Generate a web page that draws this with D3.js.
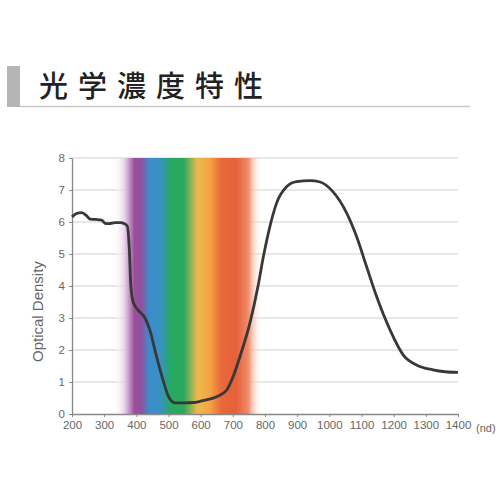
<!DOCTYPE html>
<html>
<head>
<meta charset="utf-8">
<script src="https://cdn.jsdelivr.net/npm/d3@7"></script>
<style>
  body { margin: 0; background: #fff; }
  #vis { width: 500px; height: 500px; }
</style>
</head>
<body>
<div id="vis"></div>
<script>
// curve
var wavelengths = [200, 215, 230, 245, 256, 275, 292, 305, 315, 335, 350, 362, 372, 378, 383, 390, 405, 427, 442, 463, 483, 498, 508, 520, 550, 577, 600, 618, 650, 681, 701, 722, 753, 778, 795, 815, 836, 867, 898, 940, 971, 1011, 1054, 1085, 1116, 1147, 1189, 1230, 1271, 1322, 1360, 1400];
var density = [6.16, 6.27, 6.29, 6.2, 6.09, 6.08, 6.06, 5.95, 5.95, 5.98, 5.98, 5.95, 5.87, 5.2, 4.0, 3.5, 3.25, 3.0, 2.62, 1.79, 1.06, 0.59, 0.42, 0.35, 0.35, 0.36, 0.4, 0.44, 0.54, 0.75, 1.17, 1.79, 2.84, 3.98, 4.92, 5.85, 6.59, 7.1, 7.26, 7.29, 7.25, 6.95, 6.28, 5.54, 4.6, 3.67, 2.62, 1.84, 1.53, 1.38, 1.32, 1.3];

var xTicks = [200, 300, 400, 500, 600, 700, 800, 900, 1000, 1100, 1200, 1300, 1400];
var yTicks = [0, 1, 2, 3, 4, 5, 6, 7, 8];

// visible light band
var spectrumNm = [330, 366, 394, 414, 440, 472, 508, 548, 590, 628, 664, 710, 748, 790];
var spectrumColors = ['#ffffff', '#e2c8e4', '#9b4f9b', '#944f9f', '#3b8dc9', '#3a90c7', '#25a960', '#2ba95f', '#efb84c', '#f4a443', '#e9693a', '#e7603a', '#ef8c6a', '#ffffff'];
var spectrumAlpha = [0, 1, 1, 1, 1, 1, 1, 1, 1, 1, 1, 1, 1, 0];

var svg = d3.select('#vis')
    .append('svg')
    .attr('width', 500)
    .attr('height', 500);

// header
svg.append('rect').attr('x', 7).attr('y', 66).attr('width', 13).attr('height', 41).style('fill', '#b5b5b5');
svg.append('line').attr('x1', 20).attr('x2', 470).attr('y1', 106.5).attr('y2', 106.5)
    .style('stroke', '#c8c8c8').style('stroke-width', 1.5);
svg.append('text').text('光学濃度特性')
    .attr('x', 39).attr('y', 97)
    .style('font-family', '"Noto Sans CJK JP"')
    .style('font-size', '29px')
    .style('font-weight', 500)
    .style('letter-spacing', '10px')
    .style('fill', '#222');

var x = d3.scaleLinear().domain([200, 1400]).range([72, 458]);
var y = d3.scaleLinear().domain([0, 8]).range([414, 158]);

var defs = svg.append('defs');
var grad = defs.append('linearGradient')
    .attr('id', 'spec')
    .attr('gradientUnits', 'userSpaceOnUse')
    .attr('x1', x(spectrumNm[0])).attr('x2', x(spectrumNm[spectrumNm.length - 1]))
    .attr('y1', 0).attr('y2', 0);
var span = spectrumNm[spectrumNm.length - 1] - spectrumNm[0];
grad.selectAll('stop')
    .data(spectrumNm)
    .enter()
    .append('stop')
    .attr('offset', function(d) { return (d - spectrumNm[0]) / span; })
    .attr('stop-color', function(d, i) { return spectrumColors[i]; })
    .attr('stop-opacity', function(d, i) { return spectrumAlpha[i]; });

// grid
svg.append('g').selectAll('line')
    .data(yTicks.slice(1))
    .enter()
    .append('line')
    .attr('x1', x(200)).attr('x2', x(1400))
    .attr('y1', function(d) { return y(d); })
    .attr('y2', function(d) { return y(d); })
    .style('stroke', '#cfcfcf')
    .style('stroke-width', 1);

svg.append('rect')
    .attr('x', x(spectrumNm[0]))
    .attr('width', x(spectrumNm[spectrumNm.length - 1]) - x(spectrumNm[0]))
    .attr('y', y(8))
    .attr('height', y(0) - y(8))
    .style('fill', 'url(#spec)');

// axes
var xAxis = d3.axisBottom(x).tickValues(xTicks).tickFormat(d3.format('d')).tickSize(3).tickSizeOuter(0).tickPadding(4);
var yAxis = d3.axisLeft(y).tickValues(yTicks).tickFormat(d3.format('d')).tickSize(3).tickSizeOuter(0).tickPadding(4);

var gx = svg.append('g').attr('transform', 'translate(0,' + y(0) + ')').call(xAxis);
var gy = svg.append('g').attr('transform', 'translate(' + x(200) + ',0)').call(yAxis);

[gx, gy].forEach(function(g) {
    g.select('.domain').style('stroke', '#888').style('stroke-width', 1.3);
    g.selectAll('.tick line').style('stroke', '#888');
    g.selectAll('.tick text')
        .style('font-family', '"Liberation Sans", Arial, sans-serif')
        .style('font-size', '11.5px')
        .style('fill', '#666');
});

svg.append('text').text('(nd)')
    .attr('x', 476).attr('y', 432)
    .style('font-family', '"Liberation Sans", Arial, sans-serif')
    .style('font-size', '11px')
    .style('fill', '#666');

svg.append('text').text('Optical Density')
    .attr('transform', 'translate(43,' + y(3.2) + ')rotate(-90)')
    .attr('text-anchor', 'middle')
    .style('font-family', '"Liberation Sans", Arial, sans-serif')
    .style('font-size', '15px')
    .style('fill', '#666');

// curve
var line = d3.line()
    .x(function(d) { return x(d[0]); })
    .y(function(d) { return y(d[1]); })
    .curve(d3.curveMonotoneX);

svg.append('path')
    .datum(d3.zip(wavelengths, density))
    .attr('d', line)
    .style('fill', 'none')
    .style('stroke', '#383838')
    .style('stroke-width', 2.8)
    .style('stroke-linejoin', 'round');
</script>
</body>
</html>
